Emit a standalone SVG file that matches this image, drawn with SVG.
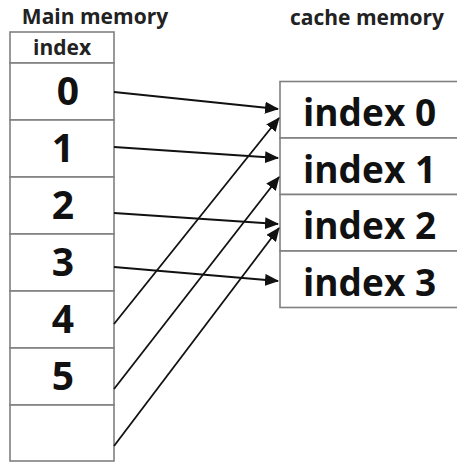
<svg xmlns="http://www.w3.org/2000/svg" width="457" height="462" viewBox="0 0 457 462">
<style>
.cell{fill:#fff;stroke:#808080;stroke-width:1.6}
.hdr{font-family:"Open Sans","Liberation Sans",sans-serif;font-weight:700;font-size:21px;fill:#222}
.dig{font-family:"Open Sans","Liberation Sans",sans-serif;font-weight:700;font-size:39px;fill:#111;text-anchor:middle}
.ctx{font-family:"Open Sans","Liberation Sans",sans-serif;font-weight:700;font-size:37px;fill:#111}
.arr{stroke:#111;stroke-width:1.8;fill:none;marker-end:url(#ah)}
</style>
<defs>
<marker id="ah" markerUnits="userSpaceOnUse" markerWidth="14" markerHeight="12" viewBox="0 0 14 12" refX="13" refY="6" orient="auto">
<path d="M0,0 L14,6 L0,12 Z" fill="#111"/>
</marker>
</defs>
<rect width="457" height="462" fill="#fff"/>
<text class="hdr" x="95" y="24" text-anchor="middle">Main memory</text>
<text class="hdr" x="367" y="25" text-anchor="middle">cache memory</text>
<g id="main-header"><rect class="cell" x="10" y="32" width="104" height="31"/><text class="hdr" x="62" y="55" text-anchor="middle">index</text></g>
<g id="main-0"><rect class="cell" x="10" y="63" width="104" height="57"/><text class="dig" x="68" y="105">0</text></g>
<g id="main-1"><rect class="cell" x="10" y="120" width="104" height="57"/><text class="dig" x="63" y="162">1</text></g>
<g id="main-2"><rect class="cell" x="10" y="177" width="104" height="57"/><text class="dig" x="63" y="219">2</text></g>
<g id="main-3"><rect class="cell" x="10" y="234" width="104" height="57"/><text class="dig" x="63" y="276">3</text></g>
<g id="main-4"><rect class="cell" x="10" y="291" width="104" height="57"/><text class="dig" x="63" y="333">4</text></g>
<g id="main-5"><rect class="cell" x="10" y="348" width="104" height="57"/><text class="dig" x="63" y="390">5</text></g>
<g id="main-6"><rect class="cell" x="10" y="405" width="104" height="56"/></g>
<g id="cache-0"><rect class="cell" x="280" y="81.5" width="190" height="56.5"/><text class="ctx" x="303" y="126">index 0</text></g>
<g id="cache-1"><rect class="cell" x="280" y="138" width="190" height="56.5"/><text class="ctx" x="303" y="182.5">index 1</text></g>
<g id="cache-2"><rect class="cell" x="280" y="194.5" width="190" height="56.5"/><text class="ctx" x="303" y="239">index 2</text></g>
<g id="cache-3"><rect class="cell" x="280" y="251" width="190" height="56.5"/><text class="ctx" x="303" y="295.5">index 3</text></g>
<g id="connectors">
<line class="arr" x1="114" y1="92" x2="278" y2="109"/>
<line class="arr" x1="114" y1="147" x2="278" y2="158"/>
<line class="arr" x1="114" y1="213" x2="278" y2="224"/>
<line class="arr" x1="114" y1="267" x2="278" y2="281"/>
<line class="arr" x1="114" y1="324" x2="279" y2="118"/>
<line class="arr" x1="114" y1="389" x2="279" y2="177"/>
<line class="arr" x1="114" y1="446" x2="279" y2="228"/>
</g>
</svg>
